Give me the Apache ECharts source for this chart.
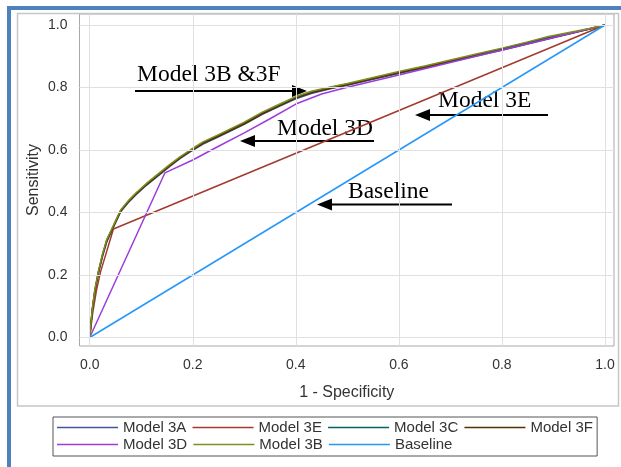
<!DOCTYPE html>
<html>
<head>
<meta charset="utf-8">
<script src="https://cdn.jsdelivr.net/npm/echarts@6/dist/echarts.min.js"></script>
<style>
html, body { margin: 0; padding: 0; background: #fff; }
#chart { width: 621px; height: 467px; }
</style>
</head>
<body>
<div id="chart"></div>
<script>
// ROC curves, values
var mainFpr = [0, 0.005, 0.01, 0.017, 0.025, 0.033, 0.043, 0.05, 0.06, 0.075, 0.09, 0.11, 0.125, 0.14, 0.155, 0.175, 0.195, 0.22, 0.25, 0.275, 0.3, 0.335, 0.37, 0.4, 0.43, 0.465, 0.5, 0.55, 0.6, 0.65, 0.7, 0.75, 0.8, 0.85, 0.89, 0.93, 0.97, 1]
var model3A = [0, 0.085, 0.145, 0.205, 0.26, 0.305, 0.342, 0.367, 0.402, 0.432, 0.457, 0.487, 0.507, 0.527, 0.547, 0.572, 0.594, 0.619, 0.642, 0.662, 0.682, 0.714, 0.741, 0.764, 0.781, 0.795, 0.807, 0.826, 0.845, 0.863, 0.882, 0.901, 0.919, 0.939, 0.955, 0.971, 0.987, 1]
var model3B = [0, 0.092, 0.153, 0.213, 0.268, 0.313, 0.348, 0.373, 0.408, 0.438, 0.463, 0.493, 0.513, 0.533, 0.553, 0.578, 0.6, 0.626, 0.649, 0.669, 0.689, 0.721, 0.748, 0.771, 0.788, 0.801, 0.813, 0.832, 0.851, 0.869, 0.888, 0.907, 0.926, 0.946, 0.963, 0.976, 0.989, 1]
var model3C = [0, 0.09, 0.151, 0.211, 0.266, 0.311, 0.346, 0.371, 0.406, 0.436, 0.461, 0.491, 0.511, 0.531, 0.551, 0.576, 0.598, 0.624, 0.647, 0.667, 0.687, 0.719, 0.746, 0.769, 0.786, 0.799, 0.811, 0.83, 0.849, 0.867, 0.886, 0.905, 0.924, 0.944, 0.96, 0.974, 0.988, 1]
var model3F = [0, 0.088, 0.149, 0.209, 0.264, 0.309, 0.344, 0.369, 0.404, 0.434, 0.459, 0.489, 0.509, 0.529, 0.549, 0.574, 0.596, 0.621, 0.644, 0.664, 0.684, 0.716, 0.743, 0.766, 0.783, 0.797, 0.809, 0.828, 0.847, 0.865, 0.884, 0.903, 0.921, 0.941, 0.957, 0.972, 0.987, 1]
var model3EFpr = [0, 0.006, 0.013, 0.021, 0.032, 0.046, 1]
var model3ETpr = [0, 0.08, 0.15, 0.21, 0.27, 0.347, 1]
var model3DFpr = [0, 0.146, 0.2, 0.25, 0.3, 0.35, 0.4, 0.45, 0.5, 0.6, 0.7, 0.8, 0.9, 1]
var model3DTpr = [0, 0.527, 0.568, 0.612, 0.655, 0.7, 0.747, 0.779, 0.801, 0.84, 0.88, 0.92, 0.96, 1]
var baselineFpr = [0, 1]
var baselineTpr = [0, 1]

var tickValues = [0, 0.2, 0.4, 0.6, 0.8, 1.0]
var seriesNames = ['Model 3A', 'Model 3E', 'Model 3C', 'Model 3F', 'Model 3D', 'Model 3B', 'Baseline']
var seriesColors = ['#445694', '#A23A2E', '#01665E', '#543005', '#9D3CDB', '#7F8E1F', '#2597FA']

function pairs(xs, ys) {
    var out = []
    for (var i = 0; i < xs.length; i++) out.push([xs[i], ys[i]])
    return out
}

var curveData = {
    'Model 3A': pairs(mainFpr, model3A),
    'Model 3E': pairs(model3EFpr, model3ETpr),
    'Model 3C': pairs(mainFpr, model3C),
    'Model 3F': pairs(mainFpr, model3F),
    'Model 3D': pairs(model3DFpr, model3DTpr),
    'Model 3B': pairs(mainFpr, model3B),
    'Baseline': pairs(baselineFpr, baselineTpr)
}

var sans = '"Liberation Sans", Arial, sans-serif'
var serif = '"Liberation Serif", "Times New Roman", serif'

var gridLines = []
tickValues.forEach(function (v) {
    gridLines.push({ xAxis: v })
    gridLines.push({ yAxis: v })
})

var series = [{
    name: 'grid',
    type: 'line',
    data: [],
    z: 1,
    silent: true,
    markLine: {
        silent: true,
        symbol: ['none', 'none'],
        label: { show: false },
        lineStyle: { color: '#e0e0e0', width: 1, type: 'solid' },
        data: gridLines
    }
}]
seriesNames.forEach(function (name, i) {
    series.push({
        name: name,
        type: 'line',
        data: curveData[name],
        symbol: 'none',
        z: 3,
        lineStyle: { color: seriesColors[i], width: 1.5 },
        itemStyle: { color: seriesColors[i] }
    })
})

// arrow annotation: horizontal line with a filled head
function arrow(x1, x2, y, dir) {
    var tip = dir > 0 ? x2 : x1
    var base = tip - dir * 15
    return [{
        type: 'line',
        shape: { x1: dir > 0 ? x1 : base, y1: y, x2: dir > 0 ? base : x2, y2: y },
        style: { stroke: '#000', lineWidth: 2 }
    }, {
        type: 'polygon',
        shape: { points: [[tip, y], [base, y - 6], [base, y + 6]] },
        style: { fill: '#000' }
    }]
}
function label(text, x, y) {
    return {
        type: 'text',
        x: x, y: y,
        style: { text: text, font: '23.5px ' + serif, fill: '#000', textVerticalAlign: 'middle' }
    }
}

var graphics = [
    { type: 'rect', shape: { x: 7, y: 6, width: 4, height: 461 }, style: { fill: '#4F81BD' } },
    { type: 'rect', shape: { x: 7, y: 6, width: 614, height: 4 }, style: { fill: '#4F81BD' } },
    { type: 'rect', shape: { x: 17.5, y: 13.5, width: 601, height: 392.5 }, style: { fill: 'none', stroke: '#c6c6c6', lineWidth: 1.5 } },
    label('Model 3B &3F', 137, 75),
    label('Model 3D', 277, 128.5),
    label('Model 3E', 438, 100.5),
    label('Baseline', 348, 191.5)
]
graphics = graphics.concat(arrow(135, 307, 91, 1), arrow(240, 374, 141, -1), arrow(415, 548, 115, -1), arrow(317, 452, 204.5, -1))

var chart = echarts.init(document.getElementById('chart'))
chart.setOption({
    animation: false,
    backgroundColor: '#fff',
    grid: {
        left: 79.5, right: 7, top: 14, bottom: 121,
        show: true, borderColor: '#a8a8a8', borderWidth: 1
    },
    legend: {
        data: seriesNames,
        left: 53, top: 417, width: 560,
        orient: 'horizontal',
        icon: 'rect',
        padding: [3, 0, 4, 4],
        borderColor: '#555', borderWidth: 1,
        itemWidth: 61, itemHeight: 1.5, itemGap: 2,
        formatter: function (name) { return name + '\u00a0' },
        textStyle: { fontFamily: sans, fontSize: 15, color: '#333' }
    },
    xAxis: {
        type: 'value',
        min: -0.0198, max: 1.0175,
        name: '1 - Specificity',
        nameLocation: 'middle',
        nameGap: 39,
        nameMoveOverlap: false,
        nameTextStyle: { fontFamily: sans, fontSize: 16, color: '#333' },
        axisLine: { show: false },
        axisTick: { show: true, customValues: tickValues, length: 6, lineStyle: { color: '#8c8c8c' } },
        axisLabel: { customValues: tickValues, margin: 12, fontFamily: sans, fontSize: 14, color: '#333',
            formatter: function (v) { return v.toFixed(1) } },
        splitLine: { show: false }
    },
    yAxis: {
        type: 'value',
        min: -0.0272, max: 1.0352,
        name: 'Sensitivity',
        nameLocation: 'middle',
        nameGap: 38,
        nameMoveOverlap: false,
        nameTextStyle: { fontFamily: sans, fontSize: 16, color: '#333' },
        axisLine: { show: false },
        axisTick: { show: true, customValues: tickValues, length: 8, lineStyle: { color: '#8c8c8c' } },
        axisLabel: { customValues: tickValues, margin: 12, fontFamily: sans, fontSize: 14, color: '#333',
            formatter: function (v) { return v.toFixed(1) } },
        splitLine: { show: false }
    },
    graphic: graphics,
    series: series
})
</script>
</body>
</html>
